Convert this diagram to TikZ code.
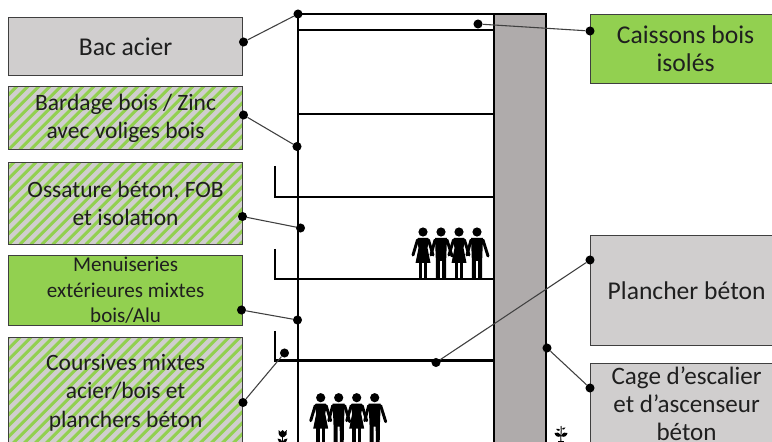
\documentclass[tikz,border=0pt]{standalone}
\usepackage{fontspec}
\setmainfont{Carlito}
\definecolor{boxgrey}{HTML}{D0CECE}
\definecolor{boxgreen}{HTML}{92D050}
\definecolor{colgrey}{HTML}{AFABAB}
\definecolor{edgegrey}{HTML}{3F3F3F}
\tikzset{
  x=0.75pt,y=-0.75pt,
  infobox/.style={draw=edgegrey,line width=0.9pt,inner sep=0pt,align=center,text=black!88,anchor=north west,font=\fontsize{19.2pt}{21pt}\selectfont},
  greybox/.style={infobox,fill=boxgrey},
  greenbox/.style={infobox,fill=boxgreen},
  hatchbox/.style={infobox,fill=boxgrey,path picture={
    \foreach \i in {-14,...,40}{
      \draw[boxgreen,line width=2.3pt]
        ([xshift=\i*8.25pt]path picture bounding box.south west) -- ++(120pt,120pt);
    }}},
  wall/.style={line width=1.5pt,draw=black},
  dot/.style={circle,fill=black,inner sep=0pt,minimum size=6.8pt},
  link/.style={line width=0.8pt,edgegrey},
  womanfig/.pic={
    \fill (0,0) circle (4.6);
    \fill (-5,6) -- (5,6) -- (6,8) -- (4.5,16) -- (7.5,31) -- (-7.5,31) -- (-4.5,16) -- (-6,8) -- cycle;
    \fill (-4.4,30) rectangle (-1.2,47);
    \fill (1.2,30) rectangle (4.4,47);
    \draw[line width=2.2pt,line cap=round] (-5.5,8) -- (-10,23);
    \draw[line width=2.2pt,line cap=round] (5.5,8) -- (10,23);
  },
  manfig/.pic={
    \fill (0,0) circle (4.6);
    \fill (-6,6) -- (6,6) -- (5.2,27) -- (5,47) -- (1.2,47) -- (1,29) -- (-1,29) -- (-1.2,47) -- (-5,47) -- (-5.2,27) -- cycle;
    \draw[line width=2.2pt,line cap=round] (-6,8) -- (-10,23);
    \draw[line width=2.2pt,line cap=round] (6,8) -- (11,24);
  },
  peoplefig/.pic={
    \pic at (0,0) {womanfig};
    \pic at (18,0) {manfig};
    \pic at (36,0) {womanfig};
    \pic at (54,0) {manfig};
  }
}
\begin{document}
\begin{tikzpicture}
\useasboundingbox (0,0) rectangle (772,442);
\clip (0,0) rectangle (772,442);
\fill[white] (0,0) rectangle (772,442);

% building
\filldraw[fill=colgrey,wall] (493.5,14.5) rectangle (545.5,460);
\draw[wall] (297.5,14.5) -- (493.5,14.5);
\draw[wall] (297.5,14.5) -- (297.5,460);
\draw[wall] (297.5,30.5) -- (493.5,30.5);
\draw[wall] (297.5,114) -- (493.5,114);
\draw[wall] (275,166) -- (275,197.5) -- (493.5,197.5);
\draw[wall] (275,249) -- (275,279) -- (493.5,279);
\draw[wall] (275,331) -- (275,360.5) -- (493.5,360.5);

% people
\pic at (423,232) {peoplefig};
\pic at (320.7,397.7) {peoplefig};

% plants
\fill (278.5,430) -- (280.5,432) -- (282.5,430) -- (284.5,432) -- (286.8,430) -- (286.5,434.5) -- (284,437) -- (281,437) -- (278.8,434.5) -- cycle;
\fill (281.8,436) rectangle (283.2,442);
\fill (277.5,438.5) .. controls (280,438.5) and (281.5,439.5) .. (282.5,442) -- (279,442) -- cycle;
\fill (287.5,438.5) .. controls (285,438.5) and (283.5,439.5) .. (282.5,442) -- (286,442) -- cycle;
\draw[line width=0.7pt] (561,426) .. controls (562,432) and (560,436) .. (561,442);
\fill (561,436) .. controls (559,432) and (557,432) .. (554.5,433) .. controls (555,436) and (558,438) .. (561,436) -- cycle;
\fill (561,436) .. controls (563,432) and (565,432) .. (567.5,433) .. controls (567,436) and (564,438) .. (561,436) -- cycle;
\fill (560.5,430) .. controls (559,428.5) and (557.5,428.5) .. (556,429) .. controls (557,431) and (559,431.5) .. (560.5,430) -- cycle;
\fill (561.5,429) .. controls (563,428) and (564.5,427) .. (565.5,427.5) .. controls (565,429.5) and (563,430.5) .. (561.5,429) -- cycle;
\fill (558,441) rectangle (564,442);

% boxes
\node[greybox,minimum width=234*0.75pt,minimum height=58*0.75pt] (bac) at (8,17) {Bac acier};
\node[hatchbox,minimum width=234*0.75pt,minimum height=63*0.75pt,font=\fontsize{17.6pt}{21pt}\selectfont] (bardage) at (8,86) {Bardage bois / Zinc\\avec voliges bois};
\node[hatchbox,minimum width=234*0.75pt,minimum height=82*0.75pt,font=\fontsize{17.6pt}{21pt}\selectfont] (ossature) at (8,162) {Ossature béton, FOB\\et isolation};
\node[greenbox,minimum width=234*0.75pt,minimum height=70*0.75pt,font=\fontsize{15.8pt}{19.2pt}\selectfont] (menuis) at (8,255) {Menuiseries\\extérieures mixtes\\bois/Alu};
\node[hatchbox,minimum width=234*0.75pt,minimum height=110*0.75pt,font=\fontsize{17.6pt}{21.3pt}\selectfont] (coursives) at (8,337) {Coursives mixtes\\acier/bois et\\planchers béton};
\node[greenbox,minimum width=190*0.75pt,minimum height=69*0.75pt] (caissons) at (590,14) {Caissons bois\\isolés};
\node[greybox,minimum width=192*0.75pt,minimum height=110*0.75pt] (plancher) at (590,235) {Plancher béton};
\node[greybox,minimum width=192*0.75pt,minimum height=80*0.75pt,font=\fontsize{18.8pt}{21pt}\selectfont] (cage) at (590,363) {Cage d’escalier\\et d’ascenseur\\béton};

% connector end points
\node[dot] (d1a) at (243.5,42) {};
\node[dot] (d1b) at (298,14) {};
\node[dot] (d2a) at (243.5,115) {};
\node[dot] (d2b) at (297,146.5) {};
\node[dot] (d3a) at (242.5,216.5) {};
\node[dot] (d3b) at (300.5,228) {};
\node[dot] (d4a) at (241.5,310) {};
\node[dot] (d4b) at (297.5,320) {};
\node[dot] (d5a) at (243,402.5) {};
\node[dot] (d5b) at (284.5,353) {};
\node[dot] (d6a) at (478,24) {};
\node[dot] (d6b) at (590,31) {};
\node[dot] (d7a) at (436,362.5) {};
\node[dot] (d7b) at (590,260) {};
\node[dot] (d8a) at (547,348) {};
\node[dot] (d8b) at (590,388) {};
\draw[link] (d1a) -- (d1b);
\draw[link] (d2a) -- (d2b);
\draw[link] (d3a) -- (d3b);
\draw[link] (d4a) -- (d4b);
\draw[link] (d5a) -- (d5b);
\draw[link] (d6a) -- (d6b);
\draw[link] (d7a) -- (d7b);
\draw[link] (d8a) -- (d8b);
\end{tikzpicture}
\end{document}
